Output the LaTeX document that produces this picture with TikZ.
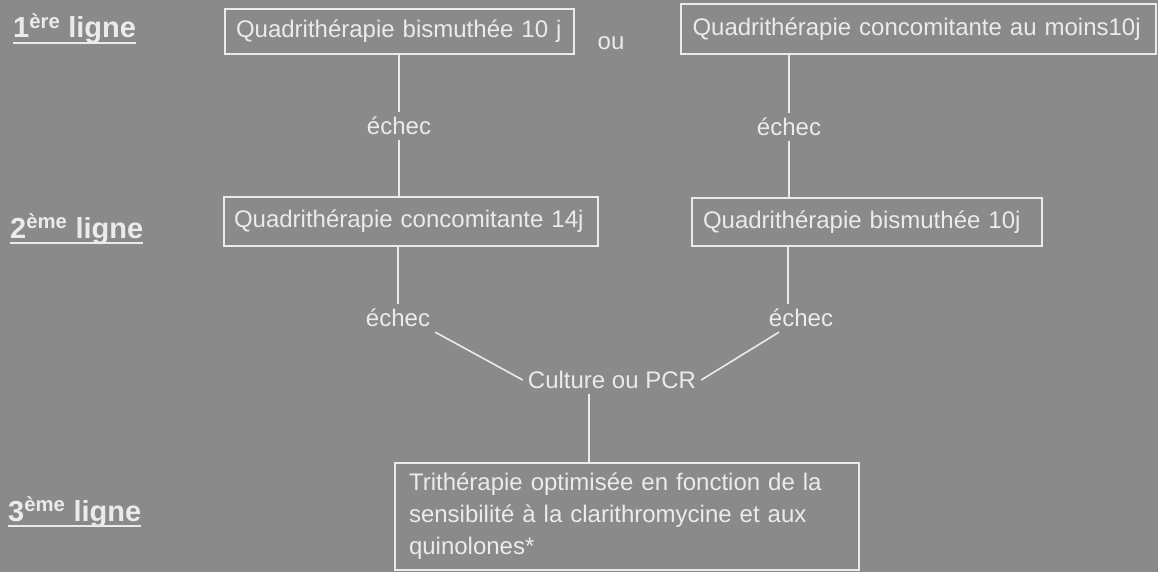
\documentclass[tikz,border=0pt]{standalone}
\usepackage{fontspec}
\setmainfont{Liberation Sans}
\colorlet{bgc}{black!46}
\colorlet{fgc}{white!92!black}
\tikzstyle{chart} = [
  x=1pt,
  y=-1pt,
  font=\fontsize{24}{32}\selectfont,
  text=fgc,
]
\tikzstyle{box} = [
  draw=fgc,
  line width=2pt,
  align=left,
  inner ysep=0pt,
  anchor=north west,
]
\tikzstyle{tag} = [inner sep=5pt]
\tikzstyle{level} = [
  font=\fontsize{29}{34}\selectfont\bfseries,
  anchor=base west,
  inner sep=0pt,
]
\tikzstyle{link} = [draw=fgc, line width=1.6pt]
\newcommand{\rangligne}[2]{%
  \setbox0\hbox{#1\textsuperscript{#2} ligne}%
  \rlap{\copy0}\rule[-6pt]{\wd0}{1.8pt}}

\begin{document}
\begin{tikzpicture}[chart]
      \fill[bgc] (0,0) rectangle (1158,572);
      \useasboundingbox (0,0) rectangle (1158,572);

      % Levels
      \node[level] (l1) at (13,38) {\rangligne{1}{ère}};
      \node[level] (l2) at (10,238) {\rangligne{2}{ème}};
      \node[level] (l3) at (8,521) {\rangligne{3}{ème}};

      % Boxes
      \node[box, text width=327pt, inner xsep=11pt, minimum height=45pt]
        (b1) at (224,8) {Quadrithérapie bismuthée 10 j};
      \node[box, text width=452pt, inner xsep=11.5pt, minimum height=50pt]
        (b2) at (680,3) {Quadrithérapie concomitante au moins10j};
      \node[box, text width=354pt, inner xsep=10pt, minimum height=49pt]
        (b3) at (223,196) {Quadrithérapie concomitante 14j};
      \node[box, text width=328pt, inner xsep=11pt, minimum height=48pt]
        (b4) at (691,197) {Quadrithérapie bismuthée 10j};
      \node[box, text width=436pt, inner xsep=14pt, minimum height=107pt]
        (b5) at (394,462) {Trithérapie optimisée en fonction de la\\
        sensibilité à la clarithromycine et aux\\
        quinolones*};

      % Labels
      \node[tag] (ou) at (611,43) {ou};
      \node[tag] (e1) at (399,126) {échec};
      \node[tag] (e2) at (789,127) {échec};
      \node[tag] (e3) at (398,318) {échec};
      \node[tag] (e4) at (801,318) {échec};
      \node[tag] (c) at (612,380) {Culture ou PCR};
      \coordinate[xshift=-13pt] (e4top) at (e4.north);
      \coordinate[xshift=-22pt] (e4foot) at (e4.south);
      \coordinate[xshift=-23pt] (cfoot) at (c.south);

      % Connectors
      \draw[link] (e1 |- b1.south) -- (e1.north);
      \draw[link] (e1.south) -- (e1 |- b3.north);
      \draw[link] (e2 |- b2.south) -- (e2.north);
      \draw[link] (e2.south) -- (e2 |- b4.north);
      \draw[link] (e3 |- b3.south) -- (e3.north);
      \draw[link] (e4top |- b4.south) -- (e4top);
      \draw[link] (e3.south east) -- (c.west);
      \draw[link] (e4foot) -- (c.east);
      \draw[link] (cfoot) -- (cfoot |- b5.north);
\end{tikzpicture}
\end{document}
